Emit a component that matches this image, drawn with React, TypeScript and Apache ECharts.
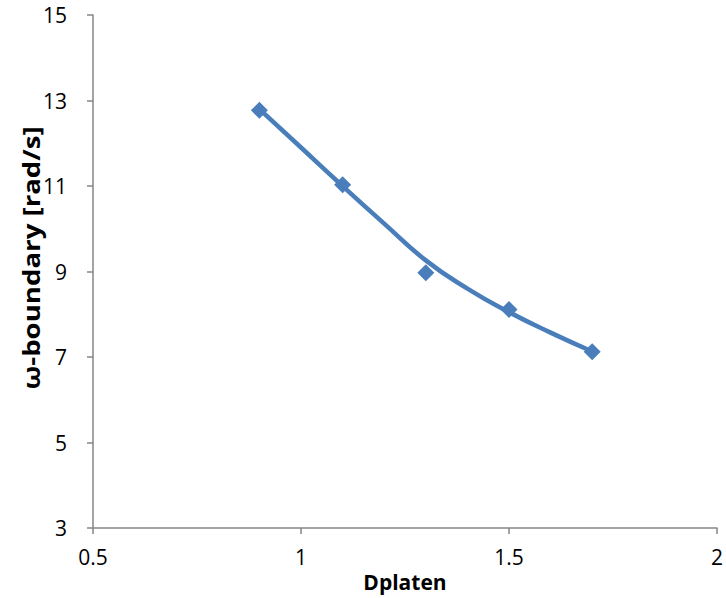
import React, { useEffect, useRef } from "react";
import * as echarts from "echarts";

const xValues = [0.9, 1.1, 1.3, 1.5, 1.7];
const yValues = [12.77, 11.03, 8.97, 8.11, 7.12];
const trendX = [0.9, 1.0, 1.1, 1.2, 1.3, 1.4, 1.5, 1.6, 1.7];
const trendY = [12.8, 11.9, 11.0, 10.12, 9.26, 8.6, 8.05, 7.57, 7.13];
const yTicks = [3, 5, 7, 9, 11, 13, 15];
const xTicks = [0.5, 1, 1.5, 2];
const xTitle = "Dplaten";
const yTitle = "ω-boundary [rad/s]";

const BLUE = "#4A7EBB";
const AXIS = "#868686";
const FONT = "'Open Sans', 'Noto Sans', sans-serif";

export default function App() {
  const ref = useRef<HTMLDivElement>(null);
  useEffect(() => {
    if (!ref.current) return;
    const chart = echarts.init(ref.current, null, { renderer: "svg" });
    chart.setOption({
      animation: false,
      backgroundColor: "#ffffff",
      grid: { left: 93, right: 9, top: 15, bottom: 70, containLabel: false },
      graphic: [
        {
          type: "text",
          x: 31,
          y: 258,
          rotation: Math.PI / 2,
          scaleX: 1.15,
          style: {
            text: yTitle,
            fontFamily: FONT,
            fontWeight: "bold",
            fontSize: 24,
            fill: "#000",
            align: "center",
            verticalAlign: "middle",
          },
        },
      ],
      xAxis: {
        type: "value",
        min: 0.5,
        max: 2,
        interval: 0.5,
        name: xTitle,
        nameLocation: "middle",
        nameGap: 39,
        nameTextStyle: { fontFamily: FONT, fontWeight: "bold", fontSize: 21, color: "#000" },
        axisLine: { show: true, lineStyle: { color: AXIS, width: 1.5 } },
        axisTick: { show: true, inside: false, length: 6, lineStyle: { color: AXIS, width: 1.5 }, customValues: xTicks },
        axisLabel: { fontFamily: FONT, fontSize: 21, color: "#000", margin: 18, customValues: xTicks, formatter: (v: number) => String(v) },
        splitLine: { show: false },
      },
      yAxis: {
        type: "value",
        min: 3,
        max: 15,
        interval: 2,
        axisLine: { show: true, lineStyle: { color: AXIS, width: 1.5 } },
        axisTick: { show: true, inside: false, length: 6, lineStyle: { color: AXIS, width: 1.5 }, customValues: yTicks },
        axisLabel: { fontFamily: FONT, fontSize: 21, color: "#000", margin: 26, customValues: yTicks },
        splitLine: { show: false },
      },
      series: [
        {
          type: "line",
          data: xValues.map((x, i) => [x, yValues[i]]),
          lineStyle: { width: 0, opacity: 0 },
          symbol: "diamond",
          symbolSize: 17,
          itemStyle: { color: BLUE },
          z: 2,
        },
        {
          type: "line",
          data: trendX.map((x, i) => [x, trendY[i]]),
          smooth: true,
          showSymbol: false,
          lineStyle: { width: 4.5, color: BLUE },
          z: 3,
        },
      ],
    });
    return () => chart.dispose();
  }, []);
  return (
    <div
      ref={ref}
      style={{ position: "fixed", left: 0, top: 0, width: 726, height: 598, background: "#fff" }}
    />
  );
}
